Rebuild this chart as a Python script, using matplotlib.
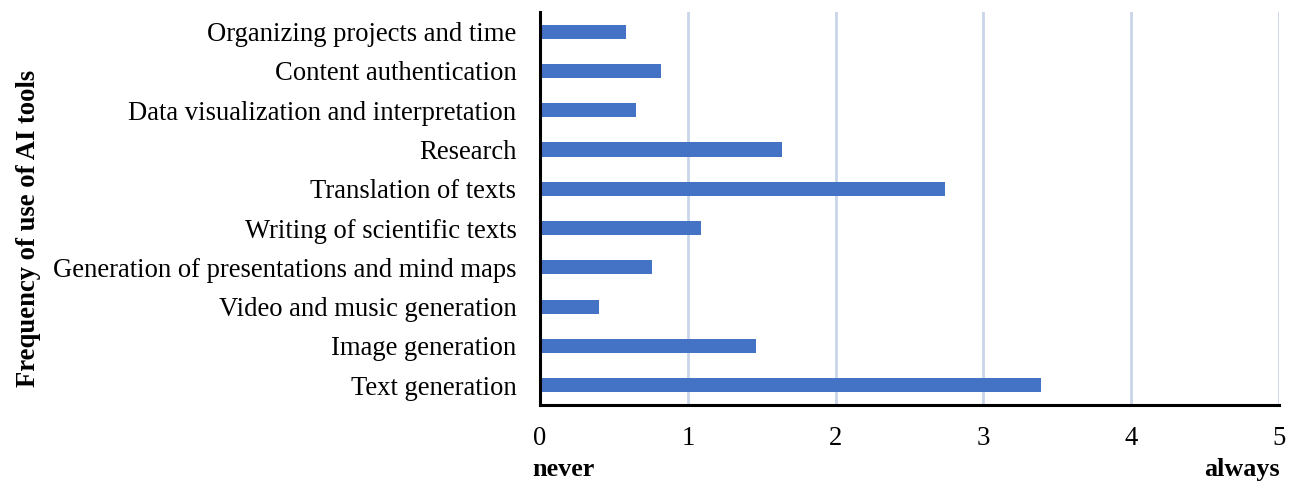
import matplotlib
matplotlib.use("Agg")
import matplotlib.pyplot as plt

plt.rcParams['font.family'] = ['Liberation Serif', 'DejaVu Serif']

# Usage categories, top to bottom as shown
categories = [
    'Organizing projects and time',
    'Content authentication',
    'Data visualization and interpretation',
    'Research',
    'Translation of texts',
    'Writing of scientific texts',
    'Generation of presentations and mind maps',
    'Video and music generation',
    'Image generation',
    'Text generation',
]
# Mean frequency of use (0 = never, 5 = always)
scores = [0.58, 0.82, 0.65, 1.64, 2.74, 1.09, 0.76, 0.40, 1.46, 3.39]
x_ticks = [0, 1, 2, 3, 4, 5]

fig = plt.figure(figsize=(12.92, 4.82), dpi=100)
ax = fig.add_axes([0.418, 0.160, 0.572, 0.815])

ypos = list(range(len(categories)))[::-1]
ax.barh(ypos, scores, height=0.36, color='#4472C4', zorder=3)

ax.set_xlim(0, 5)
ax.set_ylim(-0.5, len(categories) - 0.5)
ax.set_xticks(x_ticks)
ax.set_yticks(ypos)
ax.set_yticklabels(categories)
ax.tick_params(axis='both', length=0, labelsize=19.2)
ax.tick_params(axis='x', pad=15.5)
ax.tick_params(axis='y', pad=17)

ax.grid(axis='x', color='#c9d6ea', linewidth=2, zorder=0)
for side in ['top', 'right']:
    ax.spines[side].set_visible(False)
for side in ['left', 'bottom']:
    ax.spines[side].set_linewidth(2.2)
    ax.spines[side].set_color('black')
    ax.spines[side].set_zorder(4)

fig.text(0.0217, 0.527, 'Frequency of use of AI tools', rotation=90,
         ha='center', va='center', fontsize=19.2, fontweight='bold')
fig.text(0.412, 0.0125, 'never', ha='left', va='baseline',
         fontsize=18.8, fontweight='bold')
fig.text(0.9905, 0.0125, 'always', ha='right', va='baseline',
         fontsize=18.8, fontweight='bold')

fig.savefig('out.png', dpi=100)
